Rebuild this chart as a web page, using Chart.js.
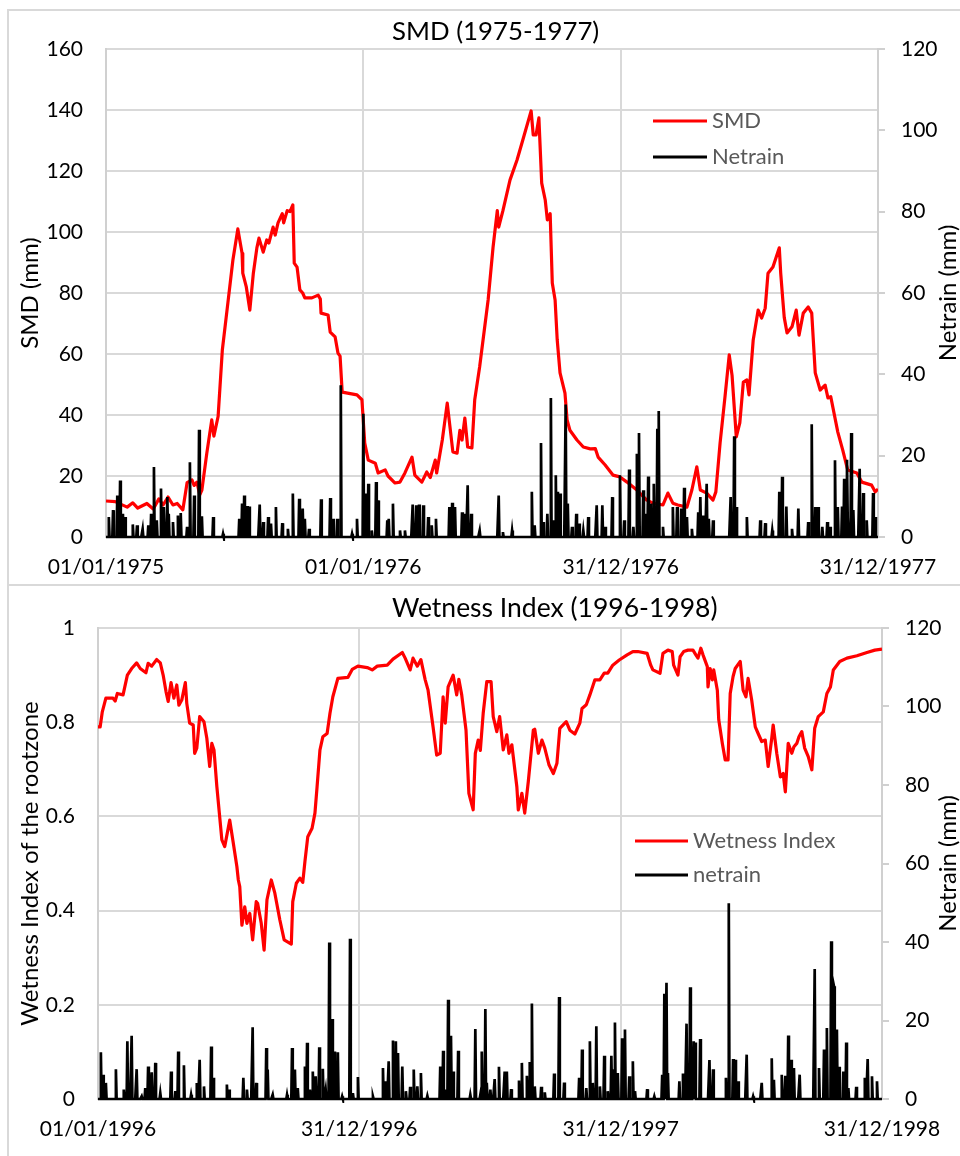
<!DOCTYPE html>
<html>
<head>
<meta charset="utf-8">
<script src="https://cdn.jsdelivr.net/npm/chart.js@4.4.1/dist/chart.umd.min.js"></script>
<style>
  html, body { margin: 0; padding: 0; background: #fff; }
  #page { position: relative; width: 960px; height: 1156px; overflow: hidden; background: #fff; }
  #page canvas { position: absolute; left: 0; }
  .rule { position: absolute; background: #d9d9d9; }
</style>
</head>
<body>
<div id="page">
  <canvas id="smdChart" width="960" height="585" style="top:0"></canvas>
  <canvas id="wetChart" width="960" height="571" style="top:585px"></canvas>
  <div class="rule" style="left:7px;top:9px;width:953px;height:2px"></div>
  <div class="rule" style="left:7px;top:584px;width:953px;height:2px"></div>
  <div class="rule" style="left:7px;top:9px;width:2px;height:1147px"></div>
</div>
<script>
// ---- Period 1975-1977: day number since 01/01/1975 ----
const smdTicksDays = [0, 365, 730, 1095];
const smdTickLabels = ['01/01/1975', '01/01/1976', '31/12/1976', '31/12/1977'];

// Soil moisture deficit (mm) [day, value]
const smdSeries = [
  [0,11.8],[13,11.6],[30,9.8],[38,11.2],[45,9.5],[58,11],[67,9.2],[75,12.5],[81,10.5],[88,13.1],
  [95,10.5],[101,11],[109,8.9],[115,17.8],[122,18.7],[125,16.9],[129,18],[133,13.8],[136,15.4],[143,27.5],
  [150,38.4],[153,33.1],[159,39.5],[165,61.3],[173,77],[180,90.8],[187,101],[193,93],[194,86.5],[199,82],
  [204,74.4],[209,86.5],[214,94.8],[217,98],[223,93.4],[228,97.4],[231,96.4],[237,101.6],[240,99],[244,103],
  [250,106],[252,103],[257,107],[261,106.7],[265,108.9],[267,89.8],[271,88.5],[275,81],[279,80],[282,78.4],
  [292,78.4],[301,79.3],[304,78],[305,73.4],[315,72.8],[318,67.2],[325,65.6],[329,60.3],[332,59.3],[335,47.5],
  [356,46.6],[363,45],[367,30.8],[372,25.2],[382,24.2],[386,21],[396,22],[400,20],[410,17.7],[417,18],
  [424,21],[434,26.2],[438,20.3],[448,18],[455,21.3],[460,19.5],[467,25.2],[469,21],[477,31.8],[484,43.9],
  [492,27.9],[498,27.5],[502,35],[505,31.8],[509,39],[513,29.5],[519,29.2],[523,45],[530,55.8],[542,77.7],
  [549,95],[555,107],[557,101.6],[563,107],[573,117],[583,123.6],[591,130],[603,139.7],[606,131.8],[610,131.8],
  [614,137.4],[618,116],[623,110.5],[626,104],[630,106],[633,83.3],[637,77.7],[640,64.6],[644,53.8],[651,47.2],
  [654,38.4],[658,35],[668,31.8],[677,29.5],[687,28.9],[694,29],[698,26.2],[708,23.6],[719,20.3],[729,19.7],
  [739,18],[753,15.4],[767,12.1],[776,11.1],[790,10.5],[797,14.4],[804,11.1],[811,10.5],[824,9.8],[831,15.4],
  [838,23],[843,15.4],[852,14.4],[861,12.1],[865,14.8],[871,30.8],[878,46],[884,59.7],[888,53],[894,32.8],
  [899,37.4],[904,50.8],[909,51.5],[912,46.6],[918,64.6],[925,74.4],[930,71.8],[935,75],[939,86.5],[946,88.5],
  [955,94.8],[957,86.5],[960,77.7],[962,72],[966,66.9],[973,68.9],[979,74.4],[983,66.2],[989,73.4],[996,75.4],
  [1001,73.4],[1006,53.8],[1013,48.2],[1020,49.8],[1024,45.6],[1028,46],[1038,34.4],[1045,28.5],[1052,22],[1065,21],
  [1072,18],[1086,17],[1091,14.8],[1095,15.7]
];

// Net rainfall (mm) on rainy days [day, value]; other days are dry (0)
const netrain7577 = [
  [4,4.9],[10,6.6],[16,10.2],[20,13.9],[24,5.7],[27,4.9],[38,3.1],[44,2.9],[52,2.0],[60,2.9],
  [64,5.7],[68,17.2],[72,4.1],[78,11.9],[82,7.4],[87,9.8],[89,5.7],[95,3.7],[102,5.3],[106,5.9],
  [115,2.5],[119,18.4],[125,10.2],[132,26.4],[136,5.1],[152,4.9],[166,0.8],[189,4.5],[193,8.2],[196,10.2],
  [200,7.6],[203,7.5],[218,8.0],[223,3.7],[230,4.9],[234,3.3],[241,7.4],[250,3.4],[258,2.0],[265,10.7],
  [274,9.4],[279,7.0],[282,4.5],[288,2.0],[305,9.3],[318,9.6],[322,4.5],[328,4.5],[333,37.3],[349,0.8],
  [356,4.5],[365,30.3],[369,10.7],[372,13.1],[377,1.6],[383,13.5],[386,9.0],[399,4.1],[401,4.5],[407,8.2],
  [417,1.6],[424,1.6],[435,8.0],[440,7.8],[444,8.0],[450,7.8],[457,4.9],[462,2.9],[468,4.5],[487,7.4],
  [491,8.4],[495,7.4],[505,6.1],[509,5.7],[513,12.7],[518,5.7],[530,1.6],[557,10.2],[563,1.2],[576,1.6],
  [604,11.1],[608,2.9],[617,23.1],[620,3.7],[626,5.7],[631,34.2],[635,4.1],[638,15.2],[641,11.1],[644,10.7],
  [652,32.6],[655,8.2],[661,2.5],[667,5.7],[671,3.3],[677,1.6],[684,4.9],[696,7.8],[704,7.8],[708,2.5],
  [718,9.8],[729,15.2],[735,4.1],[742,16.6],[748,2.5],[753,20.5],[756,25.6],[762,11.5],[765,5.7],[769,14.9],
  [773,8.2],[777,13.1],[782,26.6],[784,31.0],[790,2.5],[804,7.4],[810,7.4],[816,7.0],[820,12.1],[824,4.9],
  [831,2.0],[840,6.1],[843,9.8],[847,5.3],[852,13.1],[855,4.5],[861,4.1],[886,9.8],[891,24.8],[894,7.4],
  [909,4.9],[928,4.1],[935,3.4],[945,1.6],[955,11.1],[959,14.8],[965,7.5],[973,2.0],[982,7.0],[996,3.7],
  [1001,27.7],[1006,7.4],[1010,7.4],[1016,2.5],[1023,3.7],[1027,2.5],[1034,18.9],[1038,7.4],[1044,7.5],[1047,14.3],
  [1051,19.0],[1052,4.9],[1057,25.6],[1060,6.6],[1069,16.8],[1074,10.8],[1079,4.1],[1088,10.8],[1091,4.9]
];

// ---- Period 1996-1998: day number since 01/01/1996 ----
const wetTicksDays = [0, 365, 730, 1095];
const wetTickLabels = ['01/01/1996', '31/12/1996', '31/12/1997', '31/12/1998'];

// Wetness index of the rootzone [day, value]
const wetnessIndex = [
  [0,0.79],[3,0.79],[6,0.822],[11,0.851],[21,0.851],[24,0.845],[27,0.861],[35,0.858],[41,0.9],[47,0.914],
  [54,0.926],[59,0.914],[67,0.905],[70,0.925],[75,0.919],[82,0.933],[87,0.926],[91,0.9],[95,0.865],[98,0.844],
  [102,0.884],[106,0.851],[110,0.879],[113,0.836],[117,0.847],[122,0.884],[124,0.84],[128,0.798],[133,0.794],[135,0.734],
  [138,0.745],[142,0.812],[148,0.801],[152,0.766],[156,0.706],[159,0.755],[162,0.741],[166,0.663],[173,0.55],[177,0.536],
  [184,0.592],[189,0.543],[194,0.493],[196,0.465],[198,0.451],[201,0.369],[205,0.408],[208,0.373],[212,0.394],[216,0.338],
  [221,0.419],[223,0.415],[228,0.373],[232,0.316],[236,0.423],[242,0.465],[247,0.437],[254,0.38],[260,0.338],[270,0.329],
  [272,0.419],[277,0.458],[282,0.469],[286,0.46],[289,0.504],[293,0.557],[299,0.575],[303,0.607],[306,0.663],[310,0.741],
  [314,0.769],[320,0.776],[324,0.819],[328,0.854],[335,0.893],[349,0.895],[355,0.912],[363,0.919],[376,0.916],[383,0.911],
  [390,0.919],[404,0.921],[412,0.934],[425,0.948],[429,0.936],[436,0.911],[440,0.936],[446,0.919],[451,0.933],[457,0.89],
  [461,0.868],[468,0.79],[473,0.73],[478,0.734],[482,0.854],[485,0.798],[489,0.875],[496,0.9],[501,0.858],[504,0.891],
  [508,0.858],[514,0.783],[518,0.649],[524,0.614],[527,0.734],[531,0.762],[534,0.74],[538,0.819],[543,0.886],[549,0.886],
  [552,0.812],[557,0.78],[561,0.812],[566,0.741],[571,0.773],[574,0.734],[578,0.752],[585,0.663],[587,0.614],[592,0.649],
  [596,0.607],[601,0.674],[608,0.783],[610,0.785],[615,0.734],[620,0.762],[624,0.745],[630,0.709],[636,0.691],[641,0.713],
  [645,0.787],[654,0.801],[659,0.783],[666,0.775],[673,0.798],[676,0.829],[682,0.837],[687,0.858],[694,0.89],[701,0.89],
  [707,0.904],[712,0.904],[719,0.921],[728,0.932],[739,0.943],[747,0.95],[754,0.95],[767,0.946],[772,0.921],[775,0.911],
  [785,0.904],[789,0.946],[796,0.953],[802,0.95],[804,0.921],[810,0.9],[813,0.939],[818,0.95],[824,0.953],[831,0.953],
  [835,0.943],[838,0.936],[842,0.957],[845,0.943],[851,0.918],[852,0.875],[855,0.914],[858,0.89],[860,0.911],[865,0.868],
  [867,0.805],[872,0.755],[876,0.72],[880,0.72],[883,0.861],[887,0.897],[890,0.914],[897,0.929],[901,0.868],[905,0.854],
  [908,0.893],[913,0.847],[918,0.79],[922,0.776],[927,0.759],[932,0.762],[936,0.706],[941,0.766],[943,0.794],[948,0.734],
  [953,0.684],[957,0.691],[960,0.652],[964,0.755],[969,0.734],[972,0.748],[976,0.755],[979,0.769],[983,0.78],[987,0.745],
  [992,0.727],[997,0.699],[1001,0.787],[1006,0.812],[1013,0.822],[1018,0.861],[1023,0.875],[1027,0.911],[1036,0.929],[1046,0.936],
  [1060,0.941],[1074,0.948],[1085,0.953],[1095,0.955]
];

// Net rainfall (mm) on rainy days [day, value]; other days are dry (0)
const netrain9698 = [
  [4,11.9],[7,6.2],[11,4.1],[25,7.6],[36,2.4],[41,14.7],[47,16.1],[54,7.6],[61,0.7],[66,2.8],
  [70,8.3],[75,6.8],[80,9.2],[87,1.5],[102,7.0],[108,2.0],[112,12.1],[120,8.6],[130,1.1],[138,4.1],
  [142,10.0],[148,3.2],[158,13.4],[161,5.4],[180,3.7],[183,2.4],[203,5.4],[208,2.4],[216,18.3],[221,4.1],
  [235,13.0],[237,7.5],[244,1.1],[264,1.1],[271,13.0],[275,7.5],[279,2.8],[289,8.3],[292,14.3],[296,2.4],
  [300,7.0],[304,5.8],[309,13.2],[314,7.7],[318,2.4],[323,39.9],[327,20.4],[331,12.1],[335,11.9],[341,0.7],
  [352,40.8],[356,1.5],[363,5.6],[384,0.7],[398,7.9],[401,4.5],[406,9.6],[412,14.9],[416,14.7],[419,11.7],
  [425,8.3],[430,2.0],[436,3.1],[441,7.5],[446,3.2],[451,6.6],[460,0.8],[478,8.3],[482,12.3],[486,2.4],
  [489,25.3],[493,16.1],[496,7.0],[503,12.3],[520,1.1],[527,17.8],[534,1.1],[536,12.1],[541,22.9],[543,4.1],
  [548,2.4],[554,5.1],[560,8.2],[568,7.0],[571,7.0],[577,2.5],[588,4.7],[592,9.2],[599,5.9],[603,9.4],
  [606,24.3],[610,3.2],[619,3.1],[624,1.7],[637,6.5],[644,26.0],[651,4.2],[672,5.4],[676,12.6],[682,2.8],
  [687,14.7],[691,4.1],[696,18.5],[701,3.2],[707,11.0],[712,2.0],[717,11.0],[719,7.6],[722,19.5],[726,6.6],
  [732,15.5],[736,17.7],[742,5.8],[747,9.6],[750,2.0],[767,2.5],[777,0.7],[788,6.2],[791,26.8],[794,29.6],
  [796,6.6],[812,4.5],[817,6.5],[822,19.2],[827,28.5],[832,14.7],[834,14.4],[841,15.3],[854,9.9],[859,7.6],
  [877,5.4],[881,49.9],[887,10.2],[890,10.0],[894,4.5],[906,11.3],[915,0.7],[927,4.1],[941,10.4],[944,4.9],
  [955,6.2],[960,5.9],[964,16.2],[968,10.0],[972,7.9],[980,6.2],[1001,33.1],[1007,7.9],[1014,12.6],[1018,18.1],
  [1024,40.2],[1027,29.6],[1028,28.7],[1032,17.7],[1035,8.2],[1041,7.0],[1045,14.4],[1048,2.8],[1059,3.1],[1071,5.4],
  [1075,10.2],[1081,5.8],[1088,4.5]
];

// ---- helpers ----
const FONT = 'Lato, "Open Sans", sans-serif';
const GRID = '#d9d9d9';
const AXIS = '#d0d0d0';

const toPoints = pairs => pairs.map(([x, y]) => ({ x, y }));

// daily rain series: rainy days carry their value, all other days are 0
function dailyRain(pairs, lastDay) {
  const byDay = new Map(pairs);
  const out = [];
  for (let d = 0; d <= lastDay; d++) out.push({ x: d, y: byDay.get(d) || 0 });
  return out;
}

// plain number labels: 1 rather than 1.0
const numLabel = v => String(Number(v.toFixed(2)));

// chart title, right-hand axis title (reading upwards) and the in-plot legend
const decorations = {
  id: 'decorations',
  afterDraw(chart, args, o) {
    const ctx = chart.ctx;
    const ca = chart.chartArea;
    ctx.save();
    ctx.fillStyle = '#000';
    ctx.textBaseline = 'middle';
    ctx.textAlign = 'left';
    ctx.font = o.titleSize + 'px ' + FONT;
    ctx.fillText(o.title, o.titleX, o.titleY);

    ctx.save();
    ctx.translate(o.rightTitleX, (ca.top + ca.bottom) / 2);
    ctx.rotate(-Math.PI / 2);
    ctx.textAlign = 'center';
    ctx.font = '24px ' + FONT;
    ctx.fillText(o.rightTitle, 0, 0);
    ctx.restore();

    ctx.font = '22px ' + FONT;
    o.legend.forEach((dsIndex, i) => {
      const ds = chart.data.datasets[dsIndex];
      const y = o.legendY + i * o.legendStep;
      ctx.strokeStyle = ds.borderColor;
      ctx.lineWidth = 3;
      ctx.beginPath();
      ctx.moveTo(o.legendX, y);
      ctx.lineTo(o.legendX + o.legendLen, y);
      ctx.stroke();
      ctx.fillStyle = '#595959';
      ctx.fillText(ds.label, o.legendX + o.legendLen + 5, y);
    });
    ctx.restore();
  }
};

function makeChart(id, cfg) {
  const H = document.getElementById(id).height;
  return new Chart(document.getElementById(id), {
    type: 'line',
    data: {
      datasets: [
        {
          label: cfg.mainLabel, data: cfg.mainData, yAxisID: 'y',
          borderColor: '#ff0000', borderWidth: 3.2, pointRadius: 0, tension: 0, order: 1,
          borderJoinStyle: 'round'
        },
        {
          label: cfg.rainLabel, data: cfg.rainData, yAxisID: 'y1',
          borderColor: '#000000', borderWidth: 2.7, pointRadius: 0, tension: 0, order: 0,
          clip: 4
        }
      ]
    },
    options: {
      responsive: false,
      animation: false,
      devicePixelRatio: 1,
      parsing: false,
      normalized: true,
      layout: { padding: { top: cfg.top, left: 0, right: 0, bottom: 0 } },
      plugins: {
        legend: { display: false },
        tooltip: { enabled: false },
        decorations: cfg.deco
      },
      scales: {
        x: {
          type: 'linear', min: 0, max: cfg.lastDay,
          afterBuildTicks: s => { s.ticks = cfg.tickDays.map(v => ({ value: v })); },
          afterFit: s => { s.height = H - cfg.bottom; },
          ticks: {
            autoSkip: false, maxRotation: 0, padding: 18, color: '#000',
            font: { family: FONT, size: 21 },
            callback: (v, i) => cfg.tickLabels[i]
          },
          grid: { color: GRID, lineWidth: 2, drawTicks: false },
          border: { color: AXIS, width: 2 }
        },
        y: {
          position: 'left', min: 0, max: cfg.yMax,
          ticks: {
            stepSize: cfg.yStep, padding: 23, color: '#000',
            font: { family: FONT, size: 21 }, callback: numLabel
          },
          afterFit: s => { s.width = cfg.left; },
          grid: { color: GRID, lineWidth: 2, drawTicks: false },
          border: { color: AXIS, width: 2 },
          title: {
            display: true, text: cfg.leftTitle, color: '#000',
            font: { family: FONT, size: 24 }, padding: { top: 16, bottom: 0 }
          }
        },
        y1: {
          position: 'right', min: 0, max: 120,
          ticks: { stepSize: 20, padding: 16, color: '#000', font: { family: FONT, size: 21 }, callback: numLabel },
          afterFit: s => { s.width = 960 - cfg.right; },
          grid: { drawOnChartArea: false, color: AXIS, lineWidth: 2, tickLength: 7 },
          border: { color: AXIS, width: 2 }
        }
      }
    },
    plugins: [decorations]
  });
}

makeChart('smdChart', {
  mainLabel: 'SMD', mainData: toPoints(smdSeries),
  rainLabel: 'Netrain', rainData: dailyRain(netrain7577, 1095),
  lastDay: 1095, tickDays: smdTicksDays, tickLabels: smdTickLabels,
  yMax: 160, yStep: 20, leftTitle: 'SMD (mm)',
  top: 49, bottom: 537, left: 106, right: 878,
  deco: {
    title: 'SMD (1975-1977)', titleSize: 25.8, titleX: 392, titleY: 32,
    rightTitle: 'Netrain (mm)', rightTitleX: 948,
    legend: [0, 1], legendX: 653, legendLen: 54, legendY: 121, legendStep: 36
  }
});

makeChart('wetChart', {
  mainLabel: 'Wetness Index', mainData: toPoints(wetnessIndex),
  rainLabel: 'netrain', rainData: dailyRain(netrain9698, 1095),
  lastDay: 1095, tickDays: wetTicksDays, tickLabels: wetTickLabels,
  yMax: 1, yStep: 0.2, leftTitle: 'Wetness Index of the rootzone',
  top: 43, bottom: 514, left: 98, right: 882,
  deco: {
    title: 'Wetness Index (1996-1998)', titleSize: 26.5, titleX: 392, titleY: 23,
    rightTitle: 'Netrain (mm)', rightTitleX: 948,
    legend: [0, 1], legendX: 635, legendLen: 53, legendY: 256, legendStep: 34
  }
});
</script>
</body>
</html>
